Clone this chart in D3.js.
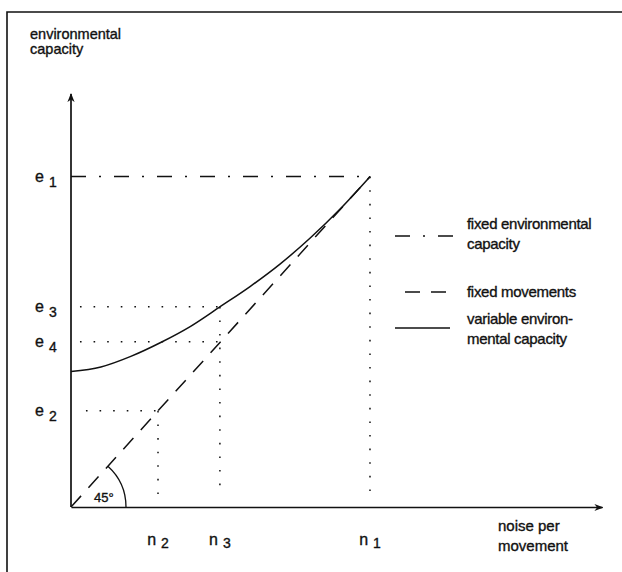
<!DOCTYPE html>
<html>
<head>
<meta charset="utf-8">
<script src="https://cdn.jsdelivr.net/npm/d3@7"></script>
<style>
  body { margin: 0; background: #fff; }
  text { font-family: "Liberation Sans", Arial, sans-serif; fill: #111; stroke: #111; stroke-width: 0.35px; }
</style>
</head>
<body>
<div id="chart"></div>
<script>
// ==== Data ====
const nLabels = ["2", "3", "1"];
const nValues = [2.91, 4.98, 10];
const eLabels = ["1", "3", "4", "2"];
const eValues = [10, 6.06, 5.0, 2.91];

// variable environmental capacity curve
const curveX = [0, 1, 2, 3, 4, 5, 6, 7, 8, 9, 10];
const curveY = [4.10, 4.24, 4.56, 4.98, 5.47, 6.07, 6.68, 7.36, 8.14, 9.02, 10.0];

const legendLabels = [
  ["fixed environmental", "capacity"],
  ["fixed movements"],
  ["variable environ-", "mental capacity"]
];
const legendDash = ["15,13,2,13", "15,11", null];

// ==== Setup ====
const width = 622, height = 572;
const svg = d3.select("#chart").append("svg")
  .attr("width", width)
  .attr("height", height);

const x = d3.scaleLinear().domain([0, 17.76]).range([71, 602]);
const y = d3.scaleLinear().domain([0, 12.5]).range([507, 94]);

// arrow head
svg.append("defs").append("marker")
  .attr("id", "arrow")
  .attr("viewBox", "0 0 10 10")
  .attr("refX", 9).attr("refY", 5)
  .attr("markerWidth", 9).attr("markerHeight", 9)
  .attr("markerUnits", "userSpaceOnUse")
  .attr("orient", "auto")
  .append("path")
  .attr("d", "M0,1 L10,5 L0,9 L3,5 Z")
  .attr("fill", "#111");

// scan frame
svg.append("path")
  .attr("d", "M7,572 L7,12 L622,12")
  .attr("fill", "none")
  .attr("stroke", "#111")
  .attr("stroke-width", 1.6);

// ==== Axes ====
const xAxis = svg.append("g")
  .attr("transform", `translate(0,${y(0)})`)
  .call(d3.axisBottom(x).tickValues([]).tickSizeOuter(0));
xAxis.select(".domain")
  .attr("stroke", "#111").attr("stroke-width", 1.7)
  .attr("marker-end", "url(#arrow)");

const yAxis = svg.append("g")
  .attr("transform", `translate(${x(0)},0)`)
  .call(d3.axisLeft(y).tickValues([]).tickSizeOuter(0));
// draw the y domain bottom -> top so the arrow points up
yAxis.select(".domain")
  .attr("d", `M0,${y(0)}V${y(12.5)}`)
  .attr("stroke", "#111").attr("stroke-width", 1.7)
  .attr("marker-end", "url(#arrow)");

// axis titles
const yTitle = svg.append("text").attr("x", 30).attr("y", 39).style("font-size", "14.5px");
yTitle.append("tspan").text("environmental");
yTitle.append("tspan").attr("x", 30).attr("dy", 15).text("capacity");

const xTitle = svg.append("text").attr("x", 498).attr("y", 531).style("font-size", "15px");
xTitle.append("tspan").text("noise per");
xTitle.append("tspan").attr("x", 498).attr("dy", 20).text("movement");

// ==== Tick labels ====
nValues.forEach((v, i) => {
  const t = svg.append("text")
    .attr("x", x(v)).attr("y", 545)
    .attr("text-anchor", "middle")
    .style("font-size", "16px");
  t.append("tspan").text("n");
  t.append("tspan").attr("dx", 5).attr("dy", 3).style("font-size", "14px").text(nLabels[i]);
});

eValues.forEach((v, i) => {
  const t = svg.append("text")
    .attr("x", 35).attr("y", y(v) + 5)
    .style("font-size", "16px");
  t.append("tspan").text("e");
  t.append("tspan").attr("dx", 5).attr("dy", 5).style("font-size", "14px").text(eLabels[i]);
});

// ==== Guide lines ====
const dotted = "1.6,12";
function guide(x1, y1, x2, y2, dash) {
  svg.append("line")
    .attr("x1", x(x1)).attr("y1", y(y1))
    .attr("x2", x(x2)).attr("y2", y(y2))
    .attr("stroke", "#111").attr("stroke-width", 1.5)
    .attr("stroke-dasharray", dash);
}
const n1 = nValues[2], n2 = nValues[0], n3 = nValues[1];
const e1 = eValues[0], e3 = eValues[1], e4 = eValues[2], e2 = eValues[3];

guide(0.3, e3, n3, e3, dotted);
guide(0.3, e4, n3, e4, dotted);
guide(0.5, e2, n2, e2, dotted);
guide(n3, e3, n3, 0.3, dotted);
guide(n2, e2, n2, 0.3, dotted);
guide(n1, e1, n1, 0.3, dotted);

// fixed environmental capacity
guide(0, e1, n1, e1, legendDash[0]);
// fixed movements (45 degree)
guide(0, 0, n1, e1, legendDash[1]);

// variable environmental capacity
svg.append("path")
  .datum(curveX.map((d, i) => [d, curveY[i]]))
  .attr("d", d3.line().x(d => x(d[0])).y(d => y(d[1])).curve(d3.curveMonotoneX))
  .attr("fill", "none")
  .attr("stroke", "#111")
  .attr("stroke-width", 1.5);

// 45 degree arc
const r = 55;
const ang = Math.atan2(y(0) - y(e1), x(n1) - x(0));
svg.append("path")
  .attr("d", `M${x(0) + r * Math.cos(ang)},${y(0) - r * Math.sin(ang)} A${r},${r} 0 0 1 ${x(0) + r},${y(0)}`)
  .attr("fill", "none").attr("stroke", "#111").attr("stroke-width", 1.3);
svg.append("text")
  .attr("x", 94).attr("y", 502)
  .style("font-size", "13px")
  .text("45°");

// ==== Legend ====
const legendY = [236, 292, 328];
const legendX = [[395, 453], [405, 448], [395, 450]];
legendLabels.forEach((lines, i) => {
  svg.append("line")
    .attr("x1", legendX[i][0]).attr("x2", legendX[i][1])
    .attr("y1", legendY[i]).attr("y2", legendY[i])
    .attr("stroke", "#111").attr("stroke-width", 1.5)
    .attr("stroke-dasharray", legendDash[i]);
  const t = svg.append("text")
    .attr("x", 467)
    .attr("y", legendY[i] + (lines.length > 1 ? -7 : 5) + (i === 2 ? 3 : 0))
    .style("font-size", "15px")
    .style("letter-spacing", "-0.3px");
  lines.forEach((l, j) => {
    t.append("tspan").attr("x", 467).attr("dy", j ? 20 : 0).text(l);
  });
});
</script>
</body>
</html>
